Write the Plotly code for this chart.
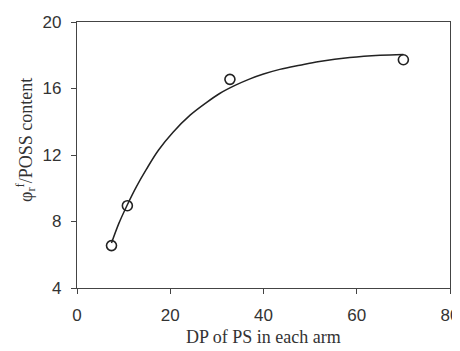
import plotly.graph_objects as go

# measured data points
dp_points = [7.4, 10.8, 32.8, 70.0]
ratio_points = [6.55, 8.95, 16.55, 17.73]

# fitted curve
dp_curve = [7.4, 9, 10.7, 12.75, 14.9, 17.5, 20.6, 24.2, 27.5, 30.6, 34, 37.1, 40, 43.5, 47.8, 52, 58.5, 65, 70]
ratio_curve = [6.7, 7.9, 8.95, 10.1, 11.15, 12.3, 13.37, 14.38, 15.1, 15.7, 16.2, 16.58, 16.87, 17.15, 17.4, 17.62, 17.86, 18.0, 18.05]

x_ticks = [0, 20, 40, 60, 80]
y_ticks = [4, 8, 12, 16, 20]

x_title = "DP of PS in each arm"
y_title = "φ<sub>r</sub><sup>f</sup>/POSS content"

# the page body adds an 8px offset; figure is sized to fill the rest of the window
OFF = 8
W, H = 460 - OFF, 351 - OFF
L, R, T, B = 77 - OFF, 10, 22 - OFF, 63
pw, ph = W - L - R, H - T - B

fig = go.Figure()
fig.add_trace(go.Scatter(x=dp_curve, y=ratio_curve, mode="lines",
                         line=dict(color="#222222", width=1.5, shape="spline", smoothing=1),
                         showlegend=False, hoverinfo="skip"))
fig.add_trace(go.Scatter(x=dp_points, y=ratio_points, mode="markers",
                         marker=dict(symbol="circle-open", size=10, color="#222222",
                                     line=dict(width=1.6, color="#222222")),
                         showlegend=False))

axis_common = dict(showgrid=False, zeroline=False, showline=True, linecolor="#444444",
                   linewidth=1.2, mirror=True, ticks="outside", ticklen=5, tickwidth=1.2,
                   tickcolor="#444444", automargin=False, ticklabelstandoff=6,
                   tickfont=dict(family="Liberation Sans, Arial, sans-serif", size=17, color="#333333"))

fig.update_xaxes(range=[0, 80], tickvals=x_ticks, **axis_common)
fig.update_yaxes(range=[4, 20], tickvals=y_ticks, **axis_common)

serif = dict(family="Liberation Serif, Times New Roman, serif", size=18, color="#333333")
# title centres in window pixels: x-title at y=337, y-title at x=25, y=140
fig.add_annotation(text=x_title, xref="paper", yref="paper", x=0.5, y=(22 + ph - 337) / ph,
                   showarrow=False, font=serif, xanchor="center", yanchor="middle")
fig.add_annotation(text=y_title, xref="paper", yref="paper", x=(25 - 77) / pw, y=(22 + ph - 140) / ph,
                   showarrow=False, font=serif, textangle=-90, xanchor="center", yanchor="middle")

fig.update_layout(width=W, height=H, margin=dict(l=L, r=R, t=T, b=B),
                  plot_bgcolor="white", paper_bgcolor="white")

fig.write_html("out.html")
